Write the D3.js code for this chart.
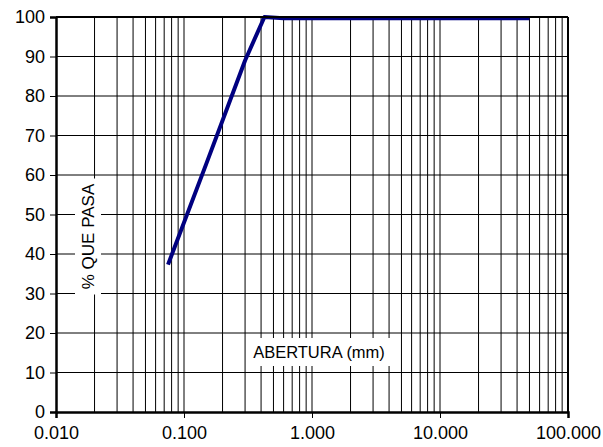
<!DOCTYPE html>
<html>
<head>
<meta charset="utf-8">
<script src="https://cdn.jsdelivr.net/npm/d3@7"></script>
<style>
  html, body { margin: 0; padding: 0; background: #fff; }
  svg { display: block; }
  text { font-family: "Liberation Sans", Arial, sans-serif; fill: #000; }
</style>
</head>
<body>
<svg id="chart" width="603" height="447"></svg>
<script>
// Grain-size curve: sieve opening (mm) vs. percent passing
const aberturas = [0.075, 0.15, 0.3, 0.425, 0.6, 1.18, 2.36, 4.75, 9.5, 12.5, 19, 25, 37.5, 50];
const quePasa   = [37.3, 63, 89, 100, 99.7, 99.7, 99.7, 99.7, 99.7, 99.7, 99.7, 99.7, 99.7, 99.7];

const xTicks = [0.01, 0.1, 1, 10, 100];
const xTickLabels = ["0.010", "0.100", "1.000", "10.000", "100.000"];
const yTicks = [0, 10, 20, 30, 40, 50, 60, 70, 80, 90, 100];

const plot = { left: 56, right: 568, top: 17, bottom: 412 };

const svg = d3.select("#chart");

const x = d3.scaleLog().domain([0.01, 100]).range([plot.left, plot.right]);
const y = d3.scaleLinear().domain([0, 100]).range([plot.bottom, plot.top]);

// minor + major vertical grid positions: 1..9 x 10^k
const vGrid = [];
for (let e = -2; e < 2; e++) {
  for (let m = 1; m <= 9; m++) {
    const v = m * Math.pow(10, e);
    if (v > 0.01) vGrid.push(v);
  }
}

const grid = svg.append("g").attr("class", "grid");
grid.selectAll("line.v").data(vGrid).join("line")
  .attr("class", "v")
  .attr("x1", d => x(d)).attr("x2", d => x(d))
  .attr("y1", plot.top).attr("y2", plot.bottom)
  .attr("stroke", "#000").attr("stroke-width", 1);
grid.selectAll("line.h").data(yTicks.filter(d => d > 0 && d < 100)).join("line")
  .attr("class", "h")
  .attr("x1", plot.left).attr("x2", plot.right)
  .attr("y1", d => y(d)).attr("y2", d => y(d))
  .attr("stroke", "#000").attr("stroke-width", 1);

// axis titles sit on white boxes over the grid
const yTitle = svg.append("g").attr("transform", `translate(88,${(183 + 290) / 2}) rotate(-90)`);
yTitle.append("rect").attr("x", -58).attr("y", -13).attr("width", 116).attr("height", 26).attr("fill", "#fff");
yTitle.append("text").attr("text-anchor", "middle").attr("dy", "0.35em")
  .style("font-size", "17px").text("% QUE PASA");

const xTitle = svg.append("g").attr("transform", `translate(${(253 + 385) / 2},352)`);
xTitle.append("rect").attr("x", -72).attr("y", -14).attr("width", 144).attr("height", 28).attr("fill", "#fff");
xTitle.append("text").attr("text-anchor", "middle").attr("dy", "0.35em")
  .style("font-size", "16.5px").text("ABERTURA (mm)");

// data curve
const line = d3.line().x((d, i) => x(aberturas[i])).y(d => y(d));
svg.append("path")
  .datum(quePasa)
  .attr("d", line)
  .attr("fill", "none")
  .attr("stroke", "#000080")
  .attr("stroke-width", 4)
  .attr("stroke-linejoin", "round");

// frame
svg.append("line").attr("x1", plot.left).attr("x2", plot.right).attr("y1", plot.top).attr("y2", plot.top)
  .attr("stroke", "#000").attr("stroke-width", 2);
svg.append("line").attr("x1", plot.right).attr("x2", plot.right).attr("y1", plot.top).attr("y2", plot.bottom)
  .attr("stroke", "#000").attr("stroke-width", 2);

// axes
const yAxis = d3.axisLeft(y).tickValues(yTicks).tickSize(6).tickFormat(d3.format("d"));
const gy = svg.append("g").attr("transform", `translate(${plot.left},0)`).call(yAxis);
gy.select(".domain").attr("stroke-width", 2.5);
gy.selectAll(".tick line").attr("stroke-width", 1);
gy.selectAll(".tick text").attr("x", -11).style("font-size", "18px")
  .style("font-family", "'Liberation Sans', Arial, sans-serif");

const xAxis = d3.axisBottom(x).tickValues(xTicks).tickSize(6)
  .tickFormat((d, i) => xTickLabels[i]);
const gx = svg.append("g").attr("transform", `translate(0,${plot.bottom})`).call(xAxis);
gx.select(".domain").attr("stroke-width", 2.5);
gx.selectAll(".tick text").attr("y", 14).style("font-size", "18px")
  .style("font-family", "'Liberation Sans', Arial, sans-serif");
</script>
</body>
</html>
